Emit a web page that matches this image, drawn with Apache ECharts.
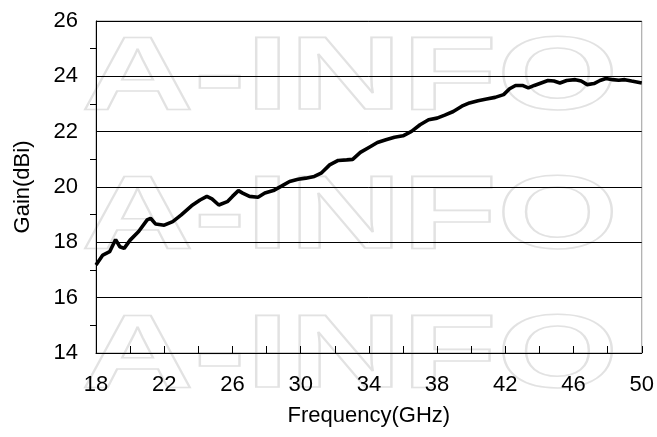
<!DOCTYPE html>
<html>
<head>
<meta charset="utf-8">
<script src="https://cdn.jsdelivr.net/npm/echarts@6/dist/echarts.min.js"></script>
<style>html,body{margin:0;padding:0;background:#fff}#c{width:657px;height:437px}</style>
</head>
<body>
<div id="c"></div>
<script>
var freq = [18.0,18.4,18.8,19.15,19.4,19.65,20.0,20.5,21.0,21.2,21.5,22.0,22.5,23.0,23.6,24.1,24.5,24.8,25.2,25.7,26.0,26.35,26.6,27.0,27.5,27.9,28.4,28.9,29.35,29.85,30.3,30.8,31.2,31.7,32.2,32.7,33.05,33.5,34.0,34.5,35.0,35.5,36.0,36.5,37.0,37.5,38.0,38.45,38.95,39.45,39.9,40.4,40.9,41.4,41.9,42.25,42.6,43.0,43.35,43.7,44.1,44.5,44.85,45.2,45.6,46.1,46.45,46.8,47.2,47.55,47.9,48.3,48.65,49.0,49.4,50.0];
var gain = [17.18,17.54,17.66,18.1,17.84,17.78,18.08,18.39,18.81,18.87,18.66,18.62,18.75,18.99,19.32,19.53,19.66,19.57,19.35,19.47,19.66,19.87,19.78,19.66,19.63,19.78,19.87,20.04,20.2,20.28,20.32,20.38,20.5,20.8,20.96,20.98,21.0,21.25,21.43,21.61,21.71,21.8,21.85,22.01,22.25,22.43,22.49,22.6,22.73,22.92,23.04,23.12,23.18,23.24,23.34,23.55,23.67,23.67,23.58,23.67,23.76,23.85,23.83,23.76,23.85,23.88,23.83,23.7,23.74,23.85,23.92,23.88,23.86,23.88,23.83,23.76];
var xTicks = [18,22,26,30,34,38,42,46,50];
var yTicks = [14,16,18,20,22,24,26];
var xName = 'Frequency(GHz)';
var yName = 'Gain(dBi)';
var watermark = 'A-INFO';

var chart = echarts.init(document.getElementById('c'));
var font = 'Arial, "Liberation Sans", sans-serif';
var wmRows = [28, 167, 306];
var graphics = wmRows.map(function(t){
  return {type:'text', left:80, top:t, z:-10, silent:true, scaleX:1.5,
    style:{text:watermark, font:'bold 104px ' + font, fill:'rgba(0,0,0,0)', stroke:'#e2e2e2', lineWidth:1.6}};
});
chart.setOption({
  animation:false,
  backgroundColor:'#fff',
  graphic: graphics,
  grid:{left:96, right:15, top:21, bottom:84, show:true, borderColor:'#9a9a9a', borderWidth:1},
  xAxis:{type:'value', min:xTicks[0], max:xTicks[xTicks.length-1], interval:4,
    name:xName, nameLocation:'middle', nameGap:52,
    nameTextStyle:{fontSize:22, color:'#000', fontFamily:font},
    axisLine:{lineStyle:{color:'#000', width:1}},
    axisTick:{show:true, inside:true, length:7, lineStyle:{color:'#000'}},
    minorTick:{show:true, splitNumber:2, length:7, lineStyle:{color:'#000'}},
    axisLabel:{fontSize:22, color:'#000', margin:21, fontFamily:font},
    splitLine:{show:false}},
  yAxis:{type:'value', min:yTicks[0], max:yTicks[yTicks.length-1], interval:2,
    name:yName, nameLocation:'middle', nameGap:62,
    nameTextStyle:{fontSize:22, color:'#000', fontFamily:font},
    axisLine:{show:true, lineStyle:{color:'#000', width:1}},
    axisTick:{show:false},
    minorTick:{show:true, splitNumber:2, length:6, lineStyle:{color:'#000'}},
    axisLabel:{fontSize:22, color:'#000', margin:18, fontFamily:font},
    splitLine:{show:true, lineStyle:{color:'#000', width:1}}},
  series:[{type:'line', data:freq.map(function(f,i){return [f, gain[i]];}),
    showSymbol:false, symbol:'none', lineStyle:{color:'#000', width:3.6}, itemStyle:{color:'#000'}}]
});
</script>
</body>
</html>
